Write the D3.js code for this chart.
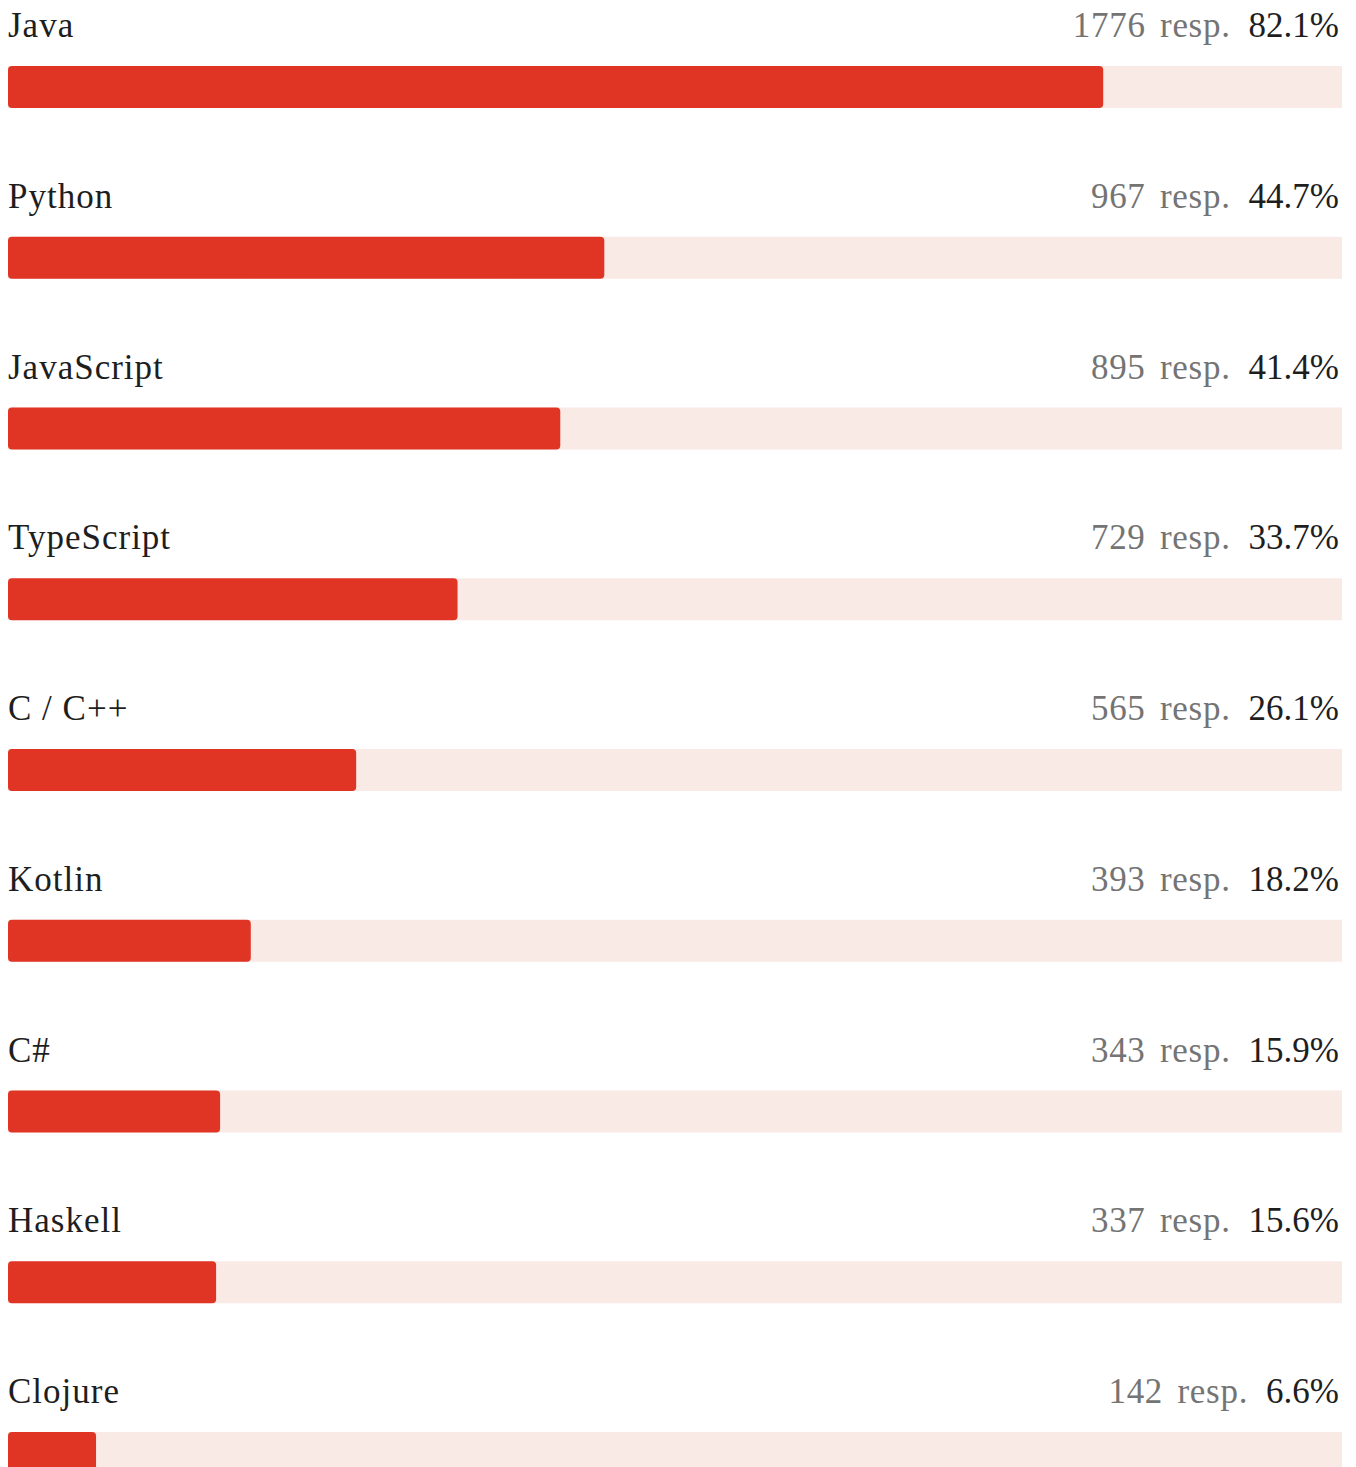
<!DOCTYPE html>
<html lang="en">
<head>
<meta charset="utf-8">
<title>Languages</title>
<style>
    body { margin: 0; background: #fff; }
    .label { font-family: 'Liberation Serif', serif; font-size: 35px; fill: #1e1e1e; }
    .name { letter-spacing: 1px; }
    .resp { fill: #747474; letter-spacing: 0.7px; word-spacing: 5px; }
</style>
</head>
<body>
<script src="https://cdn.jsdelivr.net/npm/d3@7"></script>
<script>
    // data
    var languages = ['Java', 'Python', 'JavaScript', 'TypeScript', 'C / C++', 'Kotlin', 'C#', 'Haskell', 'Clojure'];
    var responses = [1776, 967, 895, 729, 565, 393, 343, 337, 142];
    var percents = [82.1, 44.7, 41.4, 33.7, 26.1, 18.2, 15.9, 15.6, 6.6];

    var width = 1356, height = 1467;
    var left = 8, right = 1342;
    var rowH = 170.75, barH = 42, firstBar = 66;

    var svg = d3.select('body').append('svg')
        .attr('width', width)
        .attr('height', height);

    var x = d3.scaleLinear().domain([0, 100]).range([left, right]);

    var rows = svg.selectAll('g.row')
        .data(languages)
        .enter().append('g')
        .attr('class', 'row')
        .attr('transform', function(d, i) { return 'translate(0,' + (firstBar + i * rowH) + ')'; });

    // background track
    rows.append('rect')
        .attr('x', x(0))
        .attr('y', 0)
        .attr('width', x(100) - x(0))
        .attr('height', barH)
        .attr('fill', '#FAEAE6');

    // value bar
    rows.append('rect')
        .attr('x', x(0))
        .attr('y', 0)
        .attr('width', function(d, i) { return x(percents[i]) - x(0); })
        .attr('height', barH)
        .attr('rx', 4)
        .attr('fill', '#E03424');

    rows.append('text')
        .attr('class', 'label name')
        .attr('x', left)
        .attr('y', -29)
        .text(function(d) { return d; });

    var rt = rows.append('text')
        .attr('class', 'label')
        .attr('x', right - 3)
        .attr('y', -29)
        .attr('text-anchor', 'end');
    rt.append('tspan')
        .attr('class', 'resp')
        .text(function(d, i) { return responses[i] + ' resp.'; });
    rt.append('tspan')
        .attr('dx', 18)
        .text(function(d, i) { return percents[i].toFixed(1) + '%'; });
</script>
</body>
</html>
